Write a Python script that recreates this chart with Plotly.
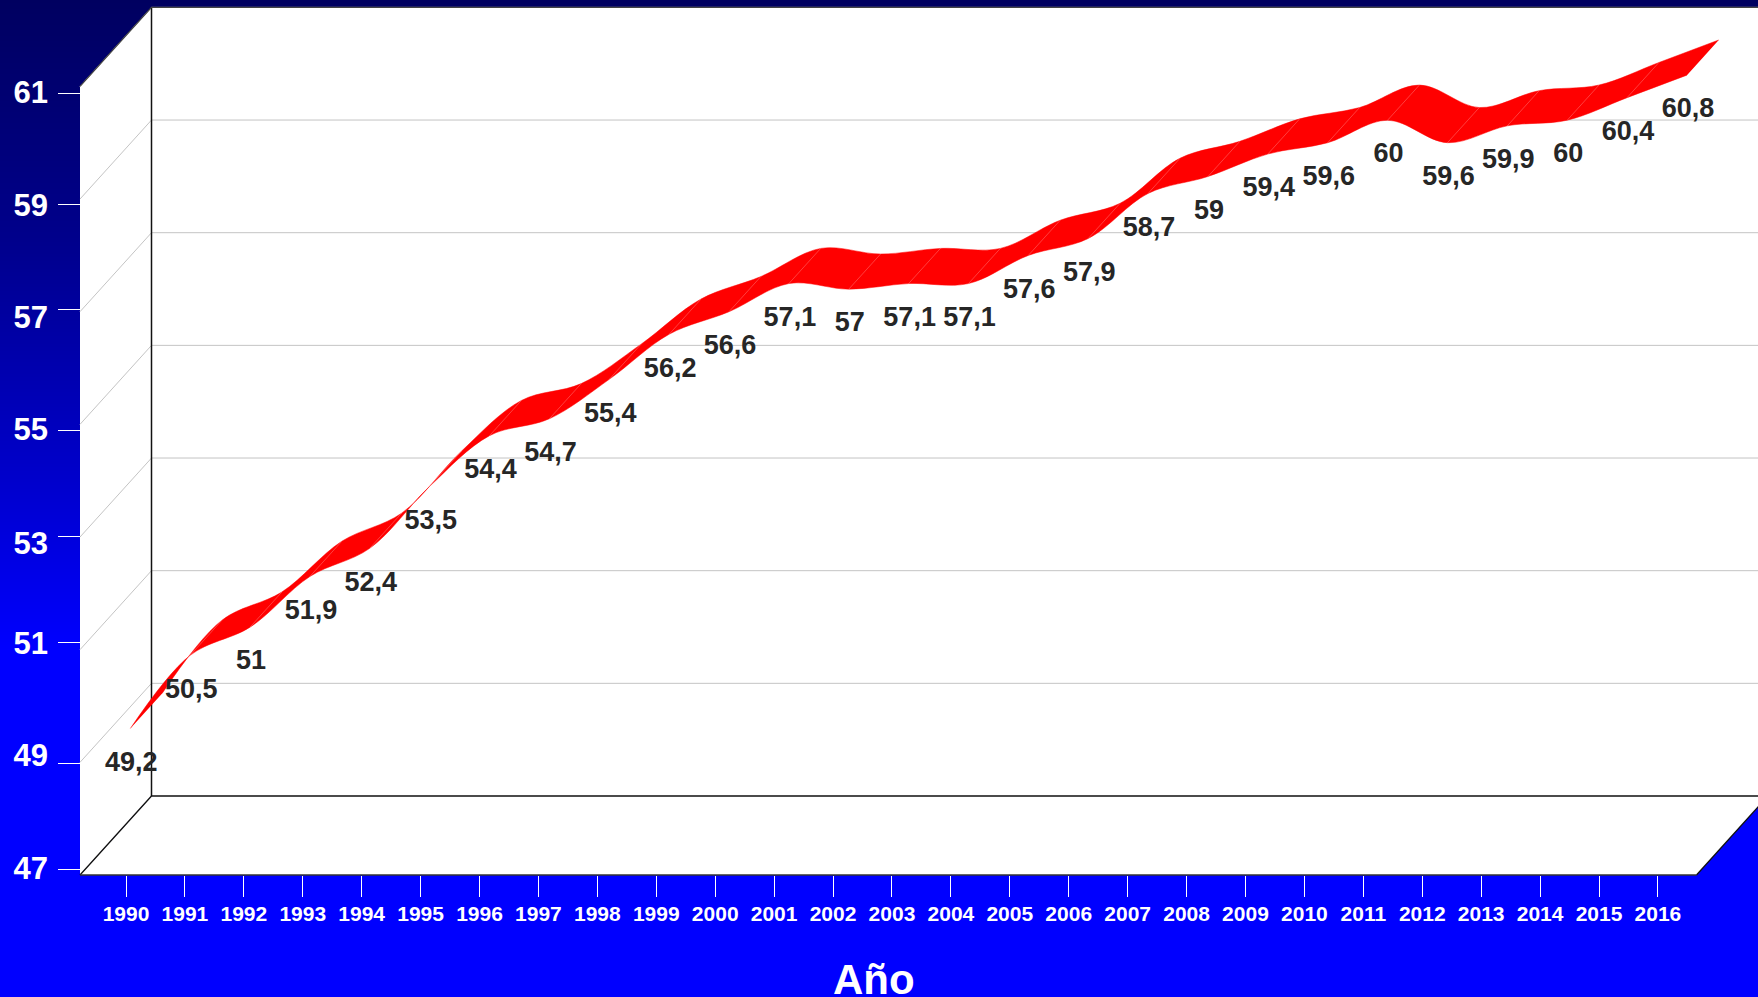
import plotly.graph_objects as go

years = list(range(1990, 2017))
values = [49.2, 50.5, 51, 51.9, 52.4, 53.5, 54.4, 54.7, 55.4, 56.2, 56.6, 57.1, 57, 57.1,
          57.1, 57.6, 57.9, 58.7, 59, 59.4, 59.6, 60, 59.6, 59.9, 60, 60.4, 60.8]
y_tick_values = [47, 49, 51, 53, 55, 57, 59, 61]

# ---- page geometry (pixels) of the oblique 3D box
W, H = 1758, 997
FLOOR_L, FLOOR_R, FLOOR_Y = 80, 1696.5, 875
DEPTH_X, DEPTH_Y = 71.5, 79      # front -> back wall shift
CAT_W = (FLOOR_R - FLOOR_L) / 27
UNIT = 56.33                     # px per value unit
Y_MIN, Y_MAX = 47, 61
FRONT_DEPTH, BACK_DEPTH = 0.285, 0.73   # ribbon position inside the box
LABEL_DROP = 35.5                # px below the ribbon's front edge

x0_px = FLOOR_L + CAT_W / 2
def xv(px):
    return (px - x0_px) / CAT_W
def yv(py):
    return Y_MIN + (FLOOR_Y - py) / UNIT

dx_depth = DEPTH_X / CAT_W
dy_depth = DEPTH_Y / UNIT
idx = list(range(len(years)))
x_l, x_r = xv(FLOOR_L), xv(FLOOR_R)

# axis tick rendering positions (irregular in the source)
tick_mark_px = [869, 763, 642, 536, 430, 309, 204, 93.5]
tick_label_px = [868, 755, 643, 543, 429, 317, 205, 92]
X_TICK0, X_TICK_STEP = 126, 58.92

fig = go.Figure()

# gradient background
rows = list(range(-2, H + 3, 6))
fig.add_trace(go.Heatmap(
    x=[xv(-5), xv(W + 5)], y=[yv(r) for r in rows], z=[[r, r] for r in rows],
    zmin=0, zmax=H, zsmooth="best", showscale=False, hoverinfo="skip",
    colorscale=[[0, "#000060"], [240 / H, "#00008C"], [480 / H, "#0000CC"], [650 / H, "#0000FF"], [1, "#0000FF"]],
))

def poly(xs, ys, fill="#ffffff", line="rgba(0,0,0,0)", width=0):
    fig.add_trace(go.Scatter(x=xs, y=ys, mode="lines", fill="toself", fillcolor=fill,
                             line=dict(color=line, width=width), hoverinfo="skip", showlegend=False))
def seg(xs, ys, color, width=1):
    fig.add_trace(go.Scatter(x=xs, y=ys, mode="lines", line=dict(color=color, width=width),
                             hoverinfo="skip", showlegend=False))

# back wall, left wall, floor
poly([x_l + dx_depth, x_r + dx_depth, x_r + dx_depth, x_l + dx_depth],
     [Y_MIN + dy_depth, Y_MIN + dy_depth, Y_MAX + dy_depth, Y_MAX + dy_depth])
poly([x_l, x_l + dx_depth, x_l + dx_depth, x_l],
     [Y_MIN, Y_MIN + dy_depth, Y_MAX + dy_depth, Y_MAX])
poly([x_l, x_r, x_r + dx_depth, x_l + dx_depth],
     [Y_MIN, Y_MIN, Y_MIN + dy_depth, Y_MIN + dy_depth])

# gridlines on both walls
for v in y_tick_values[1:-1] + [Y_MAX]:
    seg([x_l, x_l + dx_depth, x_r + dx_depth], [v, v + dy_depth, v + dy_depth], "#c4c4c4", 1)

# box outlines
seg([x_l + dx_depth, x_l + dx_depth], [Y_MIN + dy_depth, Y_MAX + dy_depth], "#111111", 1.5)
seg([x_l, x_l + dx_depth, x_r + dx_depth, x_r], [Y_MIN, Y_MIN + dy_depth, Y_MIN + dy_depth, Y_MIN], "#111111", 1.3)
seg([x_l, x_r], [Y_MIN, Y_MIN], "#333333", 1.5)
seg([x_l, x_l + dx_depth, x_r + dx_depth], [Y_MAX, Y_MAX + dy_depth, Y_MAX + dy_depth], "#444444", 1.2)

# ribbon
fx = [i + FRONT_DEPTH * dx_depth for i in idx]
fy = [v + FRONT_DEPTH * dy_depth for v in values]
bx = [i + BACK_DEPTH * dx_depth for i in idx]
by = [v + BACK_DEPTH * dy_depth for v in values]
fig.add_trace(go.Scatter(x=bx, y=by, mode="lines", line=dict(color="#ff0000", width=0.5, shape="spline", smoothing=1.0),
                         hoverinfo="skip", showlegend=False))
fig.add_trace(go.Scatter(x=fx, y=fy, mode="lines", fill="tonexty", fillcolor="#ff0000",
                         line=dict(color="#ff0000", width=0.5, shape="spline", smoothing=1.0),
                         hoverinfo="skip", showlegend=False))
# pale facet seams across the ribbon at each data point
seam_x, seam_y = [], []
for a, b, c, d in zip(fx[1:-1], fy[1:-1], bx[1:-1], by[1:-1]):
    seam_x += [a, c, None]
    seam_y += [b, d, None]
seg(seam_x, seam_y, "rgba(255,190,190,0.55)", 0.6)

# data labels
labels = [str(v).replace(".", ",") for v in values]
fig.add_trace(go.Scatter(
    x=[x + 1 / CAT_W for x in fx], y=[y - LABEL_DROP / UNIT for y in fy], mode="text", text=labels,
    textposition="middle center", textfont=dict(family="Liberation Sans", size=27, color="#262626", weight="bold"),
    hoverinfo="skip", showlegend=False, cliponaxis=False))

# dummy trace that carries the tick-mark axes
fig.add_trace(go.Scatter(x=[0], y=[Y_MIN], xaxis="x2", yaxis="y2", mode="markers", marker=dict(opacity=0),
                         hoverinfo="skip", showlegend=False))

fig.update_layout(
    width=W, height=H, autosize=False, margin=dict(l=0, r=0, t=0, b=0),
    paper_bgcolor="#0000ff", plot_bgcolor="#0000ff", showlegend=False,
    xaxis=dict(domain=[0, 1], range=[xv(0), xv(W)], visible=False, fixedrange=True),
    yaxis=dict(domain=[0, 1], range=[yv(H), yv(0)], anchor="free", position=48 / W, side="left",
               showgrid=False, zeroline=False, showline=False, ticks="", fixedrange=True,
               tickmode="array", tickvals=[yv(p) for p in tick_label_px], ticktext=[str(v) for v in y_tick_values],
               tickfont=dict(family="Liberation Sans", size=31, color="#ffffff", weight="bold")),
    # tick marks / year labels
    xaxis2=dict(domain=[0, 1], range=[(0 - X_TICK0) / X_TICK_STEP, (W - X_TICK0) / X_TICK_STEP],
                overlaying="x", anchor="free", position=1 - FLOOR_Y / H, side="bottom",
                showgrid=False, zeroline=False, showline=False, ticks="outside", ticklen=21, tickcolor="#ffffff",
                tickwidth=1, tickmode="array", tickvals=idx, ticktext=[str(y) for y in years], ticklabelstandoff=-1,
                tickfont=dict(family="Liberation Sans", size=21, color="#ffffff", weight="bold"), fixedrange=True),
    yaxis2=dict(domain=[0, 1], range=[yv(H), yv(0)], overlaying="y", anchor="free", position=FLOOR_L / W, side="left",
                showgrid=False, zeroline=False, showline=False, ticks="outside", ticklen=22, tickcolor="#ffffff",
                tickwidth=1, tickmode="array", tickvals=[yv(p) for p in tick_mark_px], showticklabels=False, fixedrange=True),
    annotations=[dict(text="Año", x=874 / W, y=1 - 979 / H, xref="paper", yref="paper", showarrow=False,
                      xanchor="center", yanchor="middle",
                      font=dict(family="Liberation Sans", size=42, color="#ffffff", weight="bold"))],
)
fig.write_html("out.html", config={"displayModeBar": False},
               post_script="document.body.style.margin='0';document.body.style.overflow='hidden';")
